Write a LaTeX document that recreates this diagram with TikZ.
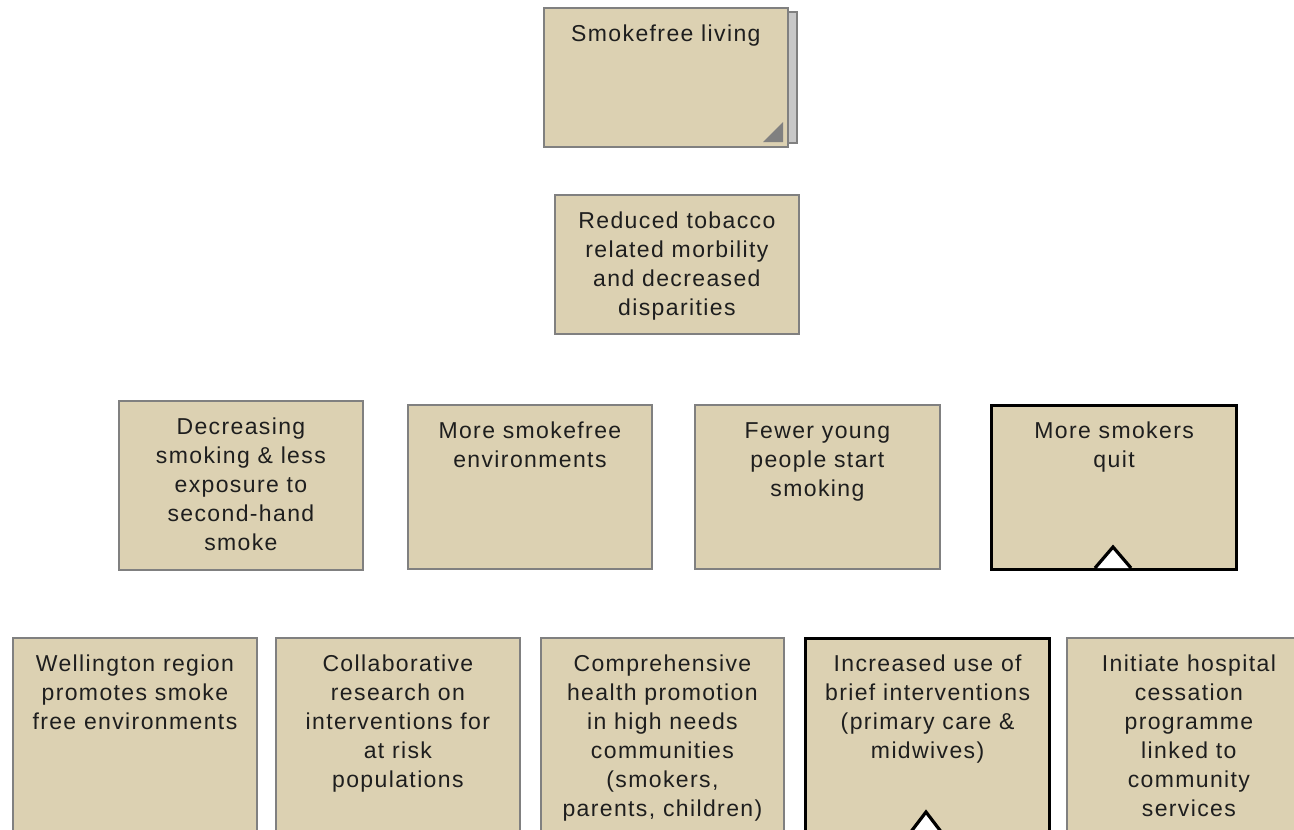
\documentclass[tikz,border=0pt]{standalone}
\usepackage{fontspec}
\setmainfont{Liberation Sans}[LetterSpace=6]
\begin{document}
\begin{tikzpicture}[x=1pt,y=-1pt,
  plainbox/.style={draw=boxgray, line width=1.8pt, fill=boxtan, anchor=north west, inner sep=0pt},
  keybox/.style={draw=black, line width=3.2pt, fill=boxtan, anchor=north west, inner sep=0pt},
  txt/.style={anchor=north, inner sep=0pt, align=center, text=textdark,
    font=\fontsize{23}{29}\selectfont}
]
\definecolor{boxtan}{RGB}{220,209,178}
\definecolor{boxgray}{RGB}{128,128,128}
\definecolor{shadowgray}{RGB}{200,200,200}
\definecolor{textdark}{RGB}{30,30,30}
\useasboundingbox (0,0) rectangle (1294,830);

% --- top box with stacked shadow
\fill[shadowgray, draw=boxgray, line width=1.5pt] (555,12) rectangle (797,143);
\node[plainbox, minimum width=244pt, minimum height=139pt] (living) at (543,7) {};
\fill[boxgray] (763,142) -- (783,122) -- (783,142) -- cycle;
\node[txt] (livingT) at ([yshift=-13.7pt]living.north) {\strut Smokefree living};

% --- second level
\node[plainbox, minimum width=244pt, minimum height=139pt] (reduced) at (554,194) {};
\node[txt] (reducedT) at ([yshift=-13.7pt]reduced.north) {\strut Reduced tobacco\\related morbility\\and decreased\\disparities};

% --- third level
\node[plainbox, minimum width=244pt, minimum height=169pt] (decr) at (118,400) {};
\node[txt] (decrT) at ([yshift=-13.7pt]decr.north) {\strut Decreasing\\smoking \& less\\exposure to\\second-hand\\smoke};

\node[plainbox, minimum width=244pt, minimum height=164pt] (envs) at (407,404) {};
\node[txt] (envsT) at ([yshift=-13.7pt]envs.north) {\strut More smokefree\\environments};

\node[plainbox, minimum width=245pt, minimum height=164pt] (young) at (694,404) {};
\node[txt] (youngT) at ([yshift=-13.7pt]young.north) {\strut Fewer young\\people start\\smoking};

\node[keybox, minimum width=245pt, minimum height=164pt] (quit) at (990,404) {};
\node[txt] (quitT) at ([yshift=-13.7pt]quit.north) {\strut More smokers\\quit};
\coordinate (quitA) at (1097,568);
\coordinate (quitB) at (1129,568);
\fill[white] (quitA) -- (1113,547) -- (quitB) -- cycle;
\draw[black, line width=3.2pt] ([xshift=-2pt]quitA) -- (1113,547) -- ([xshift=2pt]quitB);

% --- bottom level
\node[plainbox, minimum width=244pt, minimum height=200pt] (well) at (12,637) {};
\node[txt] (wellT) at ([yshift=-13.7pt]well.north) {\strut Wellington region\\promotes smoke\\free environments};

\node[plainbox, minimum width=244pt, minimum height=200pt] (collab) at (275,637) {};
\node[txt] (collabT) at ([yshift=-13.7pt]collab.north) {\strut Collaborative\\research on\\interventions for\\at risk\\populations};

\node[plainbox, minimum width=243pt, minimum height=200pt] (compr) at (540,637) {};
\node[txt] (comprT) at ([yshift=-13.7pt]compr.north) {\strut Comprehensive\\health promotion\\in high needs\\communities\\(smokers,\\parents, children)};

\node[keybox, minimum width=244pt, minimum height=196pt] (brief) at (804,637) {};
\node[txt] (briefT) at ([yshift=-13.7pt]brief.north) {\strut Increased use of\\brief interventions\\(primary care \&\\midwives)};
\coordinate (briefA) at (910,833);
\coordinate (briefB) at (942,833);
\fill[white] (briefA) -- (926,812) -- (briefB) -- cycle;
\draw[black, line width=3.2pt] (briefA) -- (926,812) -- (briefB);

\node[plainbox, minimum width=244pt, minimum height=200pt] (hosp) at (1066,637) {};
\node[txt] (hospT) at ([yshift=-13.7pt]hosp.north) {\strut Initiate hospital\\cessation\\programme\\linked to\\community\\services};
\end{tikzpicture}
\end{document}
